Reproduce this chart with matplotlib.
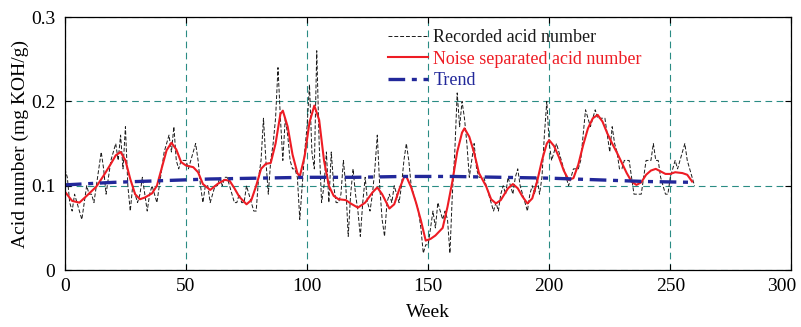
import numpy as np
import matplotlib
matplotlib.use('Agg')
import matplotlib.pyplot as plt
import matplotlib.transforms as mtransforms

plt.rcParams['font.family'] = ['Liberation Serif', 'DejaVu Serif']
plt.rcParams['mathtext.fontset'] = 'stix'

# recorded acid number, one value per week (0..260)
recorded = [
    0.12, 0.11, 0.08, 0.07, 0.09, 0.08, 0.07, 0.06, 0.08, 0.10,
    0.09, 0.09, 0.08, 0.10, 0.12, 0.14, 0.12, 0.09, 0.11, 0.13,
    0.14, 0.15, 0.13, 0.16, 0.12, 0.17, 0.10, 0.07, 0.10, 0.09,
    0.08, 0.09, 0.11, 0.09, 0.07, 0.09, 0.10, 0.09, 0.08, 0.10,
    0.12, 0.14, 0.15, 0.16, 0.14, 0.17, 0.13, 0.12, 0.13, 0.13,
    0.13, 0.12, 0.13, 0.14, 0.15, 0.13, 0.10, 0.08, 0.10, 0.10,
    0.08, 0.09, 0.10, 0.10, 0.11, 0.10, 0.11, 0.11, 0.10, 0.09,
    0.08, 0.08, 0.09, 0.08, 0.08, 0.10, 0.09, 0.08, 0.07, 0.07,
    0.11, 0.13, 0.18, 0.13, 0.09, 0.13, 0.15, 0.18, 0.24, 0.18,
    0.13, 0.18, 0.16, 0.13, 0.12, 0.12, 0.11, 0.06, 0.10, 0.14,
    0.17, 0.22, 0.14, 0.12, 0.26, 0.15, 0.08, 0.10, 0.14, 0.08,
    0.14, 0.10, 0.08, 0.08, 0.09, 0.13, 0.10, 0.04, 0.09, 0.12,
    0.09, 0.07, 0.04, 0.08, 0.11, 0.08, 0.07, 0.09, 0.12, 0.16,
    0.10, 0.06, 0.04, 0.08, 0.09, 0.08, 0.10, 0.09, 0.08, 0.10,
    0.13, 0.15, 0.13, 0.10, 0.09, 0.08, 0.07, 0.05, 0.02, 0.03,
    0.03, 0.05, 0.07, 0.05, 0.08, 0.07, 0.06, 0.07, 0.06, 0.02,
    0.09, 0.14, 0.21, 0.17, 0.20, 0.18, 0.15, 0.11, 0.13, 0.15,
    0.12, 0.11, 0.11, 0.11, 0.10, 0.09, 0.08, 0.07, 0.08, 0.07,
    0.09, 0.10, 0.09, 0.11, 0.10, 0.09, 0.11, 0.12, 0.10, 0.09,
    0.08, 0.07, 0.09, 0.10, 0.09, 0.11, 0.09, 0.11, 0.16, 0.20,
    0.15, 0.13, 0.14, 0.15, 0.14, 0.13, 0.12, 0.11, 0.10, 0.11,
    0.12, 0.12, 0.12, 0.13, 0.16, 0.19, 0.18, 0.17, 0.18, 0.19,
    0.18, 0.18, 0.18, 0.18, 0.16, 0.14, 0.17, 0.15, 0.14, 0.12,
    0.12, 0.13, 0.13, 0.13, 0.11, 0.09, 0.09, 0.09, 0.09, 0.11,
    0.13, 0.13, 0.13, 0.15, 0.13, 0.13, 0.11, 0.10, 0.09, 0.09,
    0.11, 0.12, 0.13, 0.12, 0.13, 0.14, 0.15, 0.13, 0.12, 0.11,
    0.10,
]
rec_weeks = np.arange(len(recorded))

# noise separated acid number
sep_weeks = [0, 3, 6, 9, 13, 16, 19, 21, 23, 25, 27, 29, 31, 33, 36, 38, 40,
             42, 44, 46, 48, 50, 53, 55, 57, 60, 63, 66, 68, 70, 72, 75, 77,
             79, 81, 83, 85, 87, 89, 90, 92, 94, 96, 97, 99, 101, 103, 105,
             107, 109, 111, 113, 116, 118, 121, 124, 127, 129, 131, 134, 136,
             138, 140, 141, 143, 145, 147, 149, 151, 153, 156, 158, 160, 162,
             164, 165, 167, 169, 171, 174, 176, 178, 180, 183, 185, 187, 189,
             191, 193, 195, 197, 199, 200, 202, 204, 206, 208, 210, 212, 214,
             216, 218, 220, 222, 224, 226, 228, 230, 232, 234, 236, 238, 240,
             242, 244, 246, 248, 250, 252, 255, 257, 259]
separated = [0.093, 0.082, 0.080, 0.088, 0.099, 0.112, 0.126, 0.136, 0.140,
             0.130, 0.108, 0.090, 0.084, 0.086, 0.091, 0.100, 0.121, 0.142,
             0.151, 0.143, 0.128, 0.124, 0.122, 0.116, 0.102, 0.095, 0.102,
             0.107, 0.106, 0.097, 0.087, 0.078, 0.083, 0.100, 0.120, 0.126,
             0.127, 0.150, 0.185, 0.189, 0.170, 0.137, 0.115, 0.111, 0.135,
             0.175, 0.195, 0.178, 0.130, 0.100, 0.088, 0.084, 0.083, 0.079,
             0.074, 0.080, 0.092, 0.098, 0.090, 0.073, 0.078, 0.095, 0.110,
             0.111, 0.098, 0.080, 0.059, 0.035, 0.037, 0.041, 0.050, 0.075,
             0.105, 0.140, 0.163, 0.168, 0.158, 0.139, 0.115, 0.099, 0.084,
             0.079, 0.083, 0.097, 0.102, 0.097, 0.087, 0.079, 0.085, 0.105,
             0.130, 0.150, 0.154, 0.147, 0.134, 0.118, 0.107, 0.109, 0.125,
             0.148, 0.168, 0.180, 0.184, 0.176, 0.162, 0.150, 0.139, 0.127,
             0.115, 0.105, 0.101, 0.104, 0.113, 0.118, 0.120, 0.117, 0.114,
             0.114, 0.116, 0.115, 0.113, 0.105]

# trend component
trend_weeks = [0, 20, 40, 60, 80, 100, 120, 140, 160, 180, 200, 220, 240, 260]
trend = [0.101, 0.104, 0.106, 0.108, 0.109, 0.110, 0.110, 0.111, 0.111,
         0.110, 0.109, 0.107, 0.105, 0.104]

fig = plt.figure(figsize=(8.01, 3.27), dpi=100)
ax = fig.add_axes([0.081, 0.174, 0.907, 0.774])

ax.plot(rec_weeks, recorded, color='#1a1a1a', linestyle=(0, (4, 2)),
        linewidth=0.7, label='Recorded acid number')
ax.plot(sep_weeks, separated, color='#ee1c24', linewidth=1.5,
        label='Noise separated acid number')
ax.plot(trend_weeks, trend, color='#22289a', linestyle=(0, (5, 2, 1.5, 2)),
        linewidth=2.4, label='Trend')

ax.set_xlim(0, 300)
ax.set_ylim(0, 0.3)
ax.set_xticks([0, 50, 100, 150, 200, 250, 300])
ax.set_yticks([0, 0.1, 0.2, 0.3])
ax.set_yticklabels(['0', '0.1', '0.2', '0.3'])
ax.tick_params(direction='in', top=True, right=True, labelsize=14,
               length=4, width=0.8)
ax.tick_params(axis='x', pad=6)
ax.tick_params(axis='y', pad=7)
ax.grid(True, color='#2a8c84', linestyle=(0, (6, 4)), linewidth=0.8)
for s in ax.spines.values():
    s.set_linewidth(0.9)

# last x tick label sits a little left of its tick, as in the original
last = ax.get_xticklabels()[-1]
last.set_transform(last.get_transform() +
                   mtransforms.ScaledTranslation(-10 / 100, 0, fig.dpi_scale_trans))

ax.set_xlabel('Week', fontsize=14, labelpad=6)
ax.set_ylabel('Acid number (mg KOH/g)', fontsize=14, labelpad=1)

leg = ax.legend(loc='upper left', bbox_to_anchor=(0.435, 0.98), frameon=False,
                fontsize=13, handlelength=2.2, handletextpad=0.3,
                labelspacing=0.25, borderaxespad=0)
for txt, line in zip(leg.get_texts(), leg.get_lines()):
    txt.set_color(line.get_color())

fig.savefig('out.png', dpi=100)
